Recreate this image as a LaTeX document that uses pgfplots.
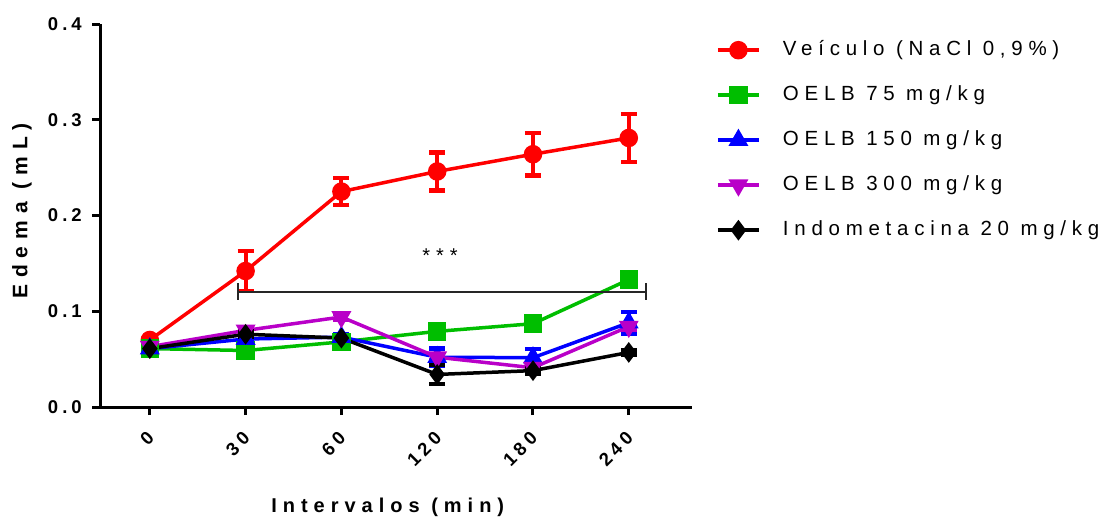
\documentclass[border=0pt]{standalone}
\usepackage{fontspec}
\setmainfont{Liberation Sans}
\newfontfamily\legfont[LetterSpace=28]{Liberation Sans}
\newfontfamily\xlabfont[LetterSpace=30]{Liberation Sans}
\newfontfamily\ylabfont[LetterSpace=33]{Liberation Sans}
\newfontfamily\tickfont[LetterSpace=22]{Liberation Sans}
\newfontfamily\starfont[LetterSpace=30]{Liberation Sans}
\usepackage{pgfplots}
\pgfplotsset{compat=1.18}
\definecolor{cred}{RGB}{255,0,0}
\definecolor{cgreen}{RGB}{0,190,0}
\definecolor{cblue}{RGB}{0,0,255}
\definecolor{cpurple}{RGB}{185,0,200}
\begin{document}
\begin{tikzpicture}
\useasboundingbox (0,0) rectangle (1103pt,520pt);
\begin{axis}[
  at={(100pt,113pt)}, anchor=south west,
  scale only axis, width=592pt, height=383pt,
  xmin=-0.52, xmax=5.66, ymin=0, ymax=0.4,
  axis lines=left,
  axis line style={-, line width=3pt, black},
  tick align=outside,
  major tick length=8pt,
  tick style={line width=3pt, black},
  xtick={0,1,2,3,4,5},
  xticklabels={0,30,60,120,180,240},
  ytick={0,0.1,0.2,0.3,0.4},
  yticklabels={0.0,0.1,0.2,0.3,0.4},
  xticklabel style={font=\fontsize{18.5}{20}\selectfont\tickfont\bfseries, xshift=1pt, yshift=-20pt, rotate=45, anchor=east, inner sep=0pt},
  yticklabel style={font=\fontsize{18.5}{20}\selectfont\tickfont\bfseries, anchor=east, inner sep=0pt, xshift=-10pt},
  xlabel={Intervalos (min)},
  ylabel={Edema (mL)},
  every axis x label/.style={at={(rel axis cs:0.486,0)}, yshift=-100pt, anchor=center, font=\fontsize{20}{22}\selectfont\xlabfont\bfseries},
  every axis y label/.style={at={(rel axis cs:0,0.512)}, xshift=-78pt, rotate=90, anchor=center, font=\fontsize{21}{23}\selectfont\ylabfont\bfseries},
  clip=false,
  legend cell align=left,
  legend style={draw=none, fill=none, at={(1.0405,0.957)}, anchor=north west, inner sep=0pt,
    font=\fontsize{20.5}{22}\selectfont\legfont,
    nodes={text height=14.5pt, text depth=4.5pt, inner sep=0pt},
    row sep=26pt, column sep=0pt},
  legend image code/.code={\draw[mark repeat=2,mark phase=2] plot coordinates {(0pt,0pt) (20.5pt,0pt) (41pt,0pt)}; \path[draw=none,fill=none] (41pt,0pt) -- (65pt,0pt);},
  every axis plot/.append style={line width=3.5pt},
  error bars/y dir=both, error bars/y explicit,
  error bars/error mark=-,
]
\addplot[cred, mark=*, mark size=7.5pt, mark options={solid},
  error bars/error bar style={line width=4pt, cred},
  error bars/error mark options={rotate=90, line width=4.5pt, mark size=8pt, cred}]
  coordinates {(0,0.070) +- (0,0.003) (1,0.142) +- (0,0.021) (2,0.225) +- (0,0.014) (3,0.246) +- (0,0.020) (4,0.264) +- (0,0.022) (5,0.281) +- (0,0.025)};
\addlegendentry{Veículo (NaCl 0,9\%)}
\addplot[cgreen, mark=square*, mark size=7.5pt,
  error bars/error bar style={line width=4pt, cgreen},
  error bars/error mark options={rotate=90, line width=4.5pt, mark size=8pt, cgreen}]
  coordinates {(0,0.061) +- (0,0.002) (1,0.059) +- (0,0.003) (2,0.068) +- (0,0.004) (3,0.079) +- (0,0.004) (4,0.087) +- (0,0.003) (5,0.133) +- (0,0.004)};
\addlegendentry{OELB 75 mg/kg}
\addplot[cblue, mark=triangle*, mark size=8pt,
  error bars/error bar style={line width=4pt, cblue},
  error bars/error mark options={rotate=90, line width=4.5pt, mark size=8pt, cblue}]
  coordinates {(0,0.061) +- (0,0.002) (1,0.071) +- (0,0.003) (2,0.073) +- (0,0.003) (3,0.052) +- (0,0.009) (4,0.0515) +- (0,0.009) (5,0.088) +- (0,0.011)};
\addlegendentry{OELB 150 mg/kg}
\addplot[cpurple, mark=triangle*, mark size=8pt, mark options={rotate=180},
  error bars/error bar style={line width=4pt, cpurple},
  error bars/error mark options={rotate=90, line width=4.5pt, mark size=8pt, cpurple}]
  coordinates {(0,0.063) +- (0,0.002) (1,0.080) +- (0,0.003) (2,0.094) +- (0,0.003) (3,0.052) +- (0,0.003) (4,0.041) +- (0,0.003) (5,0.084) +- (0,0.003)};
\addlegendentry{OELB 300 mg/kg}
\addplot[black, mark=diamond*, mark size=7.5pt,
  error bars/error bar style={line width=4pt, black},
  error bars/error mark options={rotate=90, line width=4.5pt, mark size=8pt, black}]
  coordinates {(0,0.061) +- (0,0.002) (1,0.076) +- (0,0.003) (2,0.072) +- (0,0.003) (3,0.034) +- (0,0.010) (4,0.038) +- (0,0.003) (5,0.057) +- (0,0.002)};
\addlegendentry{Indometacina 20 mg/kg}
\draw[line width=2pt, black!85] (axis cs:0.92,0.120) -- (axis cs:5.18,0.120);
\draw[line width=2pt, black!85] (axis cs:0.92,0.1295) -- (axis cs:0.92,0.1115);
\draw[line width=2pt, black!85] (axis cs:5.18,0.1295) -- (axis cs:5.18,0.1115);
\node[font=\fontsize{20}{22}\selectfont\starfont] at (axis cs:3.03,0.158) {***};
\end{axis}
\end{tikzpicture}
\end{document}
